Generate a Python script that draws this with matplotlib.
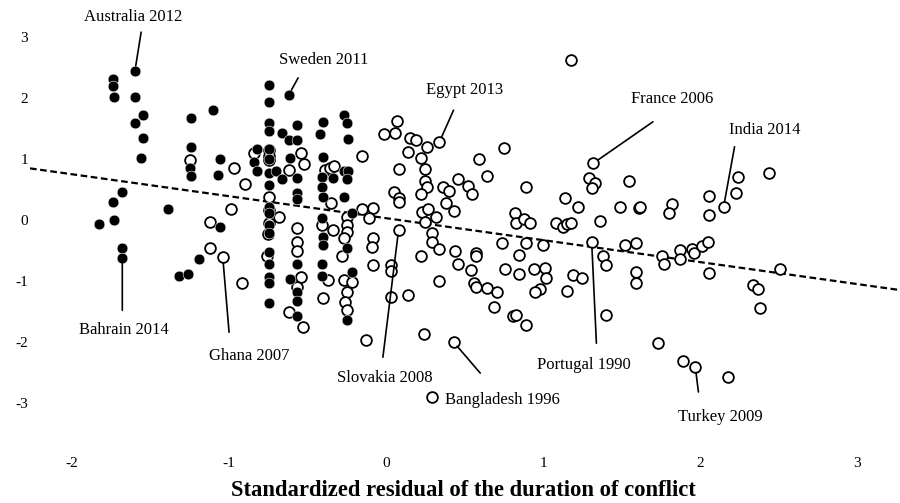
import numpy as np
import matplotlib
matplotlib.use('Agg')
import matplotlib.pyplot as plt

plt.rcParams['font.family'] = ['Liberation Serif', 'DejaVu Serif']
plt.rcParams['axes.unicode_minus'] = False

# filled markers
filled_x = [-1.74, -1.74, -1.73, -1.60, -1.60, -1.55, -1.60, -1.55, -1.56, -1.68,
            -1.74, -1.39, -1.83, -1.73, -1.68, -1.68, -1.32, -1.26, -1.19, -1.24,
            -1.10, -1.24, -1.25, -1.24, -1.06, -1.07, -1.06, -0.82, -0.84, -0.82,
            -0.745, -0.745, -0.745, -0.745, -0.745, -0.745, -0.745, -0.745, -0.745,
            -0.745, -0.745, -0.745, -0.745, -0.745, -0.745, -0.745, -0.745,
            -0.70, -0.66, -0.62, -0.66, -0.57, -0.62, -0.57, -0.61, -0.57, -0.57,
            -0.57, -0.57, -0.61, -0.57, -0.57, -0.57, -0.40, -0.42, -0.27, -0.25,
            -0.24, -0.40, -0.41, -0.34, -0.27, -0.24, -0.25, -0.41, -0.40, -0.27,
            -0.22, -0.41, -0.40, -0.40, -0.41, -0.41, -0.25, -0.22, -0.25]
filled_y = [2.31, 2.20, 2.02, 2.44, 2.02, 1.72, 1.59, 1.34, 1.02, 0.46,
            0.30, 0.18, -0.07, 0.00, -0.46, -0.62, -0.92, -0.89, -0.64, 1.67,
            1.80, 1.20, 0.85, 0.72, 1.00, 0.74, -0.11, 1.16, 0.95, 0.80,
            2.21, 1.93, 1.59, 1.46, 1.16, 1.00, 0.77, 0.57, 0.21,
            0.11, -0.08, -0.21, -0.52, -0.72, -0.93, -1.03, -1.36,
            0.80, 0.67, 2.05, 1.43, 1.56, 1.31, 1.31, 1.02, 0.69, 0.44,
            0.34, -0.72, -0.97, -1.18, -1.33, -1.57, 1.61, 1.41, 1.72, 1.59,
            1.33, 1.03, 0.70, 0.69, 0.80, 0.80, 0.67, 0.54, 0.38, 0.38,
            0.11, 0.03, -0.28, -0.41, -0.72, -0.92, -0.46, -0.85, -1.64]

# open markers
open_x = [-1.25, -0.97, -0.90, -0.99, -1.12, -1.12, -1.04, -0.92, -0.84,
          -0.745, -0.745, -0.745, -0.745, -0.745, -0.75, -0.76, -0.745,
          -0.68, -0.62, -0.54, -0.52, -0.57, -0.57, -0.57, -0.54, -0.57, -0.62, -0.53,
          -0.39, -0.36, -0.35, -0.41, -0.34, -0.37, -0.40, -0.33, -0.15, -0.08,
          -0.15, -0.11, -0.25, -0.25, -0.25, -0.27, -0.28, -0.27, -0.22, -0.25,
          -0.26, -0.25, -0.08, -0.09, -0.08, 0.03, 0.03, 0.03, 0.14, -0.13,
          0.08, 0.08, 0.05, 0.08, 0.08, 0.07, -0.01, 0.06, 0.15, 0.19,
          0.26, 0.34, 0.14, 0.22, 0.25, 0.25, 0.26, 0.22, 0.36, 0.40,
          0.38, 0.43, 0.46, 0.52, 0.55, 0.59, 0.64, 0.75, 0.89, 1.14,
          1.22, 1.18, 1.32, 1.29, 1.33, 1.31, 1.55, 1.49, 1.61, 1.36,
          0.82, 0.83, 0.88, 0.92, 1.08, 1.13, 1.15, 1.18, 1.31, 0.74,
          0.89, 1.00, 0.85, 1.52, 1.59, 0.23, 0.25, 0.27, 0.32, 0.29,
          0.29, 0.34, 0.44, 0.22, 0.57, 0.57, 0.46, 0.54, 0.34, 0.56,
          0.57, 0.64, 0.71, 0.69, 0.81, 0.83, 0.89, 0.24, 0.43, 0.29,
          0.76, 0.85, 0.94, 1.01, 1.02, 0.98, 0.95, 1.15, 1.19, 1.25,
          1.38, 1.40, 1.40, 1.59, 1.59, 1.62, 1.82, 1.80, 2.06, 2.06,
          2.15, 2.24, 2.23, 2.44, 1.76, 1.77, 1.87, 1.87, 1.95, 1.96,
          2.01, 2.05, 2.06, 2.51, 2.34, 2.37, 2.38, 1.73, 1.89, 1.97, 2.18]
open_y = [0.98, 0.85, 0.59, 0.18, -0.03, -0.46, -0.61, -1.03, 1.10,
          1.15, 1.05, 0.98, 0.38, 0.16, -0.23, -0.59, -0.05,
          0.05, 0.82, 1.10, 0.92, -0.13, -0.36, -0.51, -0.93, -1.10, -1.51, -1.75,
          0.82, 0.85, 0.28, -0.08, -0.16, -0.98, -1.28, 0.89, 1.05, 0.20,
          0.18, 0.03, 0.05, -0.08, -0.20, -0.30, -0.59, -0.98, -1.02, -1.18,
          -1.34, -1.48, -0.30, -0.44, -0.74, -0.74, -0.84, -1.26, -1.23, -1.97,
          -0.16, 0.84, 0.46, 0.36, 0.30, 1.62, 1.41, 1.43, 1.34, 1.31,
          1.20, 1.28, 1.11, 1.02, 0.84, 0.64, 0.54, 0.43, 0.54, 0.48,
          0.28, 0.15, 0.67, 0.56, 0.43, 1.00, 0.72, 1.18, 0.54, 0.36,
          0.21, 2.62, 0.93, 0.69, 0.61, 0.52, 0.64, 0.21, 0.20, -0.02,
          0.11, -0.05, 0.02, -0.05, -0.05, -0.11, -0.07, -0.05, -0.36, -0.38,
          -0.38, -0.41, -0.57, -0.41, -0.38, 0.13, -0.03, 0.18, 0.05, -0.21,
          -0.36, -0.48, -0.51, -0.59, -0.54, -0.59, -0.72, -0.82, -1.00, -1.03,
          -1.10, -1.11, -1.18, -1.43, -1.57, -1.56, -1.72, -1.87, -2.00, -2.90,
          -0.80, -0.89, -0.80, -0.79, -0.95, -1.13, -1.18, -1.16, -0.90, -0.95,
          -0.59, -0.74, -1.56, -0.85, -1.03, 0.21, 0.26, 0.11, 0.39, 0.08,
          0.21, 0.70, 0.44, 0.77, -0.59, -0.72, -0.49, -0.64, -0.48, -0.54,
          -0.43, -0.36, -0.87, -0.80, -1.07, -1.13, -1.44, -2.02, -2.31, -2.41, -2.57]

# fitted line
fit_intercept = 0.03
fit_slope = -0.36

# labelled cases
case_names = ['Australia 2012', 'Sweden 2011', 'Egypt 2013', 'France 2006', 'India 2014',
              'Bahrain 2014', 'Ghana 2007', 'Slovakia 2008', 'Bangladesh 1996',
              'Portugal 1990', 'Turkey 2009']
case_x = [-1.60, -0.62, 0.34, 1.32, 2.15, -1.68, -1.04, 0.08, 0.43, 1.31, 1.97]
case_y = [2.44, 2.05, 1.28, 0.93, 0.21, -0.62, -0.61, -0.16, -2.00, -0.36, -2.41]
line_end = [(-1.56, 3.08), (-0.56, 2.33), (0.43, 1.80), (1.70, 1.61), (2.22, 1.20),
            (-1.68, -1.48), (-1.00, -1.84), (-0.02, -2.25), (0.60, -2.51),
            (1.34, -2.02), (1.99, -2.82)]
text_pos = [(-1.61, 3.33), (-0.40, 2.62), (0.50, 2.13), (1.82, 1.98), (2.41, 1.48),
            (-1.67, -1.80), (-0.87, -2.23), (-0.01, -2.59), (0.74, -2.95),
            (1.26, -2.38), (2.13, -3.23)]

fig = plt.figure(figsize=(9, 5.03), dpi=100)
ax = fig.add_axes([30/900, 63/503, 870/900, 430/503])

xlim = (-2.268, 3.274)
ax.set_xlim(xlim)
ax.set_ylim(-3.607, 3.443)

xs = np.array(xlim)
ax.plot(xs, fit_intercept + fit_slope*xs, color='black', lw=1.6,
        dashes=(3, 1.6), zorder=1)

ax.scatter(open_x, open_y, s=60, facecolor='white', edgecolor='black',
           linewidth=1.3, zorder=2)
ax.scatter(filled_x, filled_y, s=60, facecolor='black', edgecolor='white',
           linewidth=0.4, zorder=3)

for name, px, py, (ex, ey), (tx, ty) in zip(case_names, case_x, case_y, line_end, text_pos):
    ax.annotate('', xy=(px, py), xytext=(ex, ey),
                arrowprops=dict(arrowstyle='-', color='black', lw=1.2,
                                shrinkA=0, shrinkB=4), zorder=4)
    ax.text(tx, ty, name, ha='center', va='center', fontsize=12)

ax.set_xticks([-2, -1, 0, 1, 2, 3])
ax.set_yticks([-3, -2, -1, 0, 1, 2, 3])
ax.tick_params(axis='both', length=0, labelsize=11)
ax.tick_params(axis='x', pad=12)
ax.tick_params(axis='y', pad=1.5)
for sp in ax.spines.values():
    sp.set_visible(False)

fig.text(463/900, 1 - 490/503, 'Standardized residual of the duration of conflict',
         ha='center', va='center', fontsize=16.3, fontweight='bold')

fig.savefig('out.png', dpi=100)
